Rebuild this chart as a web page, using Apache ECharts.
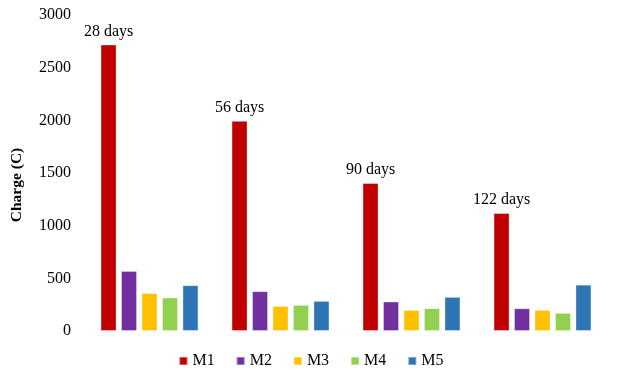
<!DOCTYPE html>
<html>
<head>
<meta charset="utf-8">
<script src="https://cdn.jsdelivr.net/npm/echarts@6/dist/echarts.min.js"></script>
<style>
  html, body { margin: 0; padding: 0; background: #fff; }
  #chart { width: 622px; height: 380px; }
</style>
</head>
<body>
<div id="chart"></div>
<script>
// curing ages, shown above the M1 bar of each group
const categories = ["28 days", "56 days", "90 days", "122 days"];
const m1 = [2720, 1995, 1405, 1120];
const m2 = [570, 378, 280, 216];
const m3 = [360, 238, 200, 200];
const m4 = [318, 248, 216, 172];
const m5 = [435, 286, 324, 440];
const yTicks = [0, 500, 1000, 1500, 2000, 2500, 3000];

const FONT = "Liberation Serif";
const FS = 16;
const seriesDefs = [
  { name: "M1", data: m1, color: "#C00000" },
  { name: "M2", data: m2, color: "#7030A0" },
  { name: "M3", data: m3, color: "#FFC000" },
  { name: "M4", data: m4, color: "#92D050" },
  { name: "M5", data: m5, color: "#2E75B6" },
];

const chart = echarts.init(document.getElementById("chart"), null, { renderer: "canvas" });

chart.setOption({
  animation: false,
  textStyle: { fontFamily: FONT, color: "#000" },
  grid: { left: 84, right: 14, top: 15, bottom: 49 },
  legend: {
    data: seriesDefs.map((s) => s.name),
    left: "center",
    top: 348,
    icon: "rect",
    itemWidth: 8,
    itemHeight: 8,
    itemGap: 21,
    textStyle: { fontFamily: FONT, fontSize: FS, color: "#000" },
  },
  // axis title sits a bit below the plot's middle in the original
  graphic: [
    {
      type: "text",
      x: 17,
      y: 185,
      rotation: Math.PI / 2,
      style: {
        text: "Charge (C)",
        font: "bold 15.5px 'Liberation Serif'",
        fill: "#000",
        align: "center",
        verticalAlign: "middle",
      },
    },
  ],
  xAxis: {
    type: "category",
    data: categories,
    axisLine: { show: false },
    axisTick: { show: false },
    axisLabel: { show: false },
  },
  yAxis: {
    type: "value",
    min: yTicks[0],
    max: yTicks[yTicks.length - 1],
    interval: 500,
    axisLine: { show: false },
    axisTick: { show: false },
    splitLine: { show: false },
    axisLabel: {
      fontFamily: FONT,
      fontSize: FS,
      color: "#000",
      margin: 13,
      formatter: (v) => String(v),
    },
  },
  series: seriesDefs.map((s, idx) => ({
    name: s.name,
    type: "bar",
    data: s.data,
    barWidth: 16,
    barGap: "28%",
    itemStyle: { color: s.color, borderColor: "rgba(255,255,255,0.35)", borderWidth: 1 },
    label: idx === 0
      ? {
          show: true,
          position: "top",
          distance: 5,
          fontFamily: FONT,
          fontSize: FS,
          color: "#000",
          formatter: (p) => categories[p.dataIndex],
        }
      : { show: false },
  })),
});
</script>
</body>
</html>
